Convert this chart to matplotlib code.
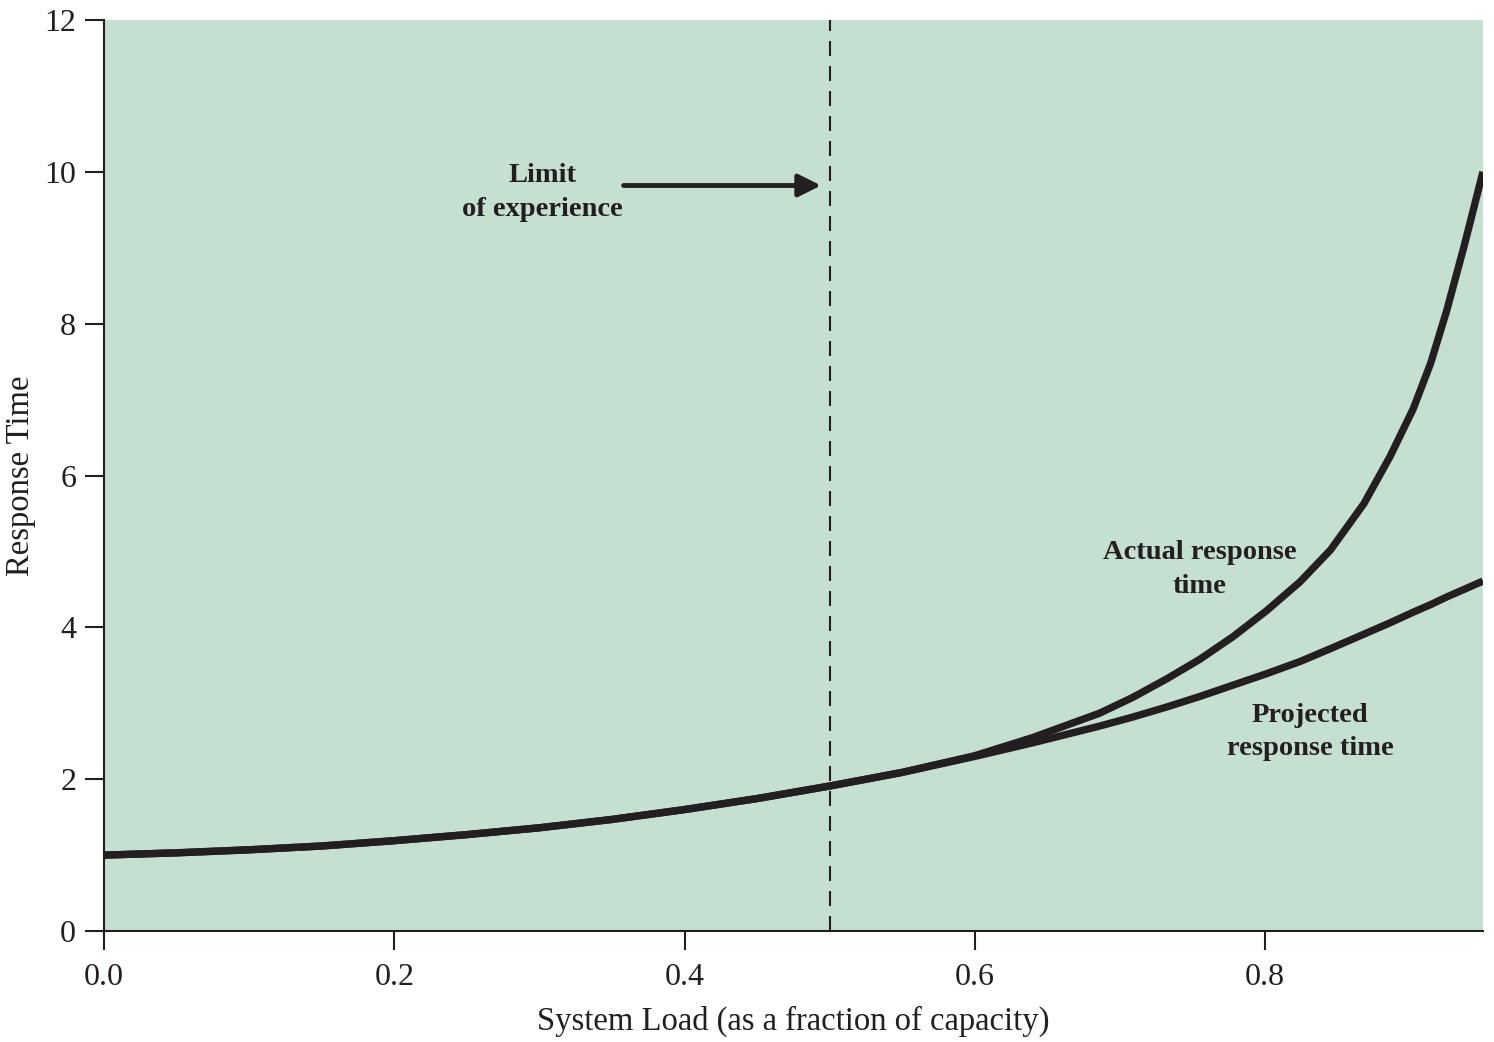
import numpy as np
import matplotlib.pyplot as plt

# values
load = [0.0, 0.05, 0.1, 0.15, 0.2, 0.25, 0.3, 0.35, 0.4, 0.45, 0.5, 0.55, 0.6,
        0.64, 0.686, 0.709, 0.732, 0.755, 0.778, 0.801, 0.824, 0.845, 0.868,
        0.886, 0.902, 0.914, 0.925, 0.937, 0.95]
actual = [1.0, 1.03, 1.07, 1.12, 1.19, 1.27, 1.36, 1.47, 1.60, 1.745, 1.91, 2.09, 2.31,
          2.55, 2.87, 3.08, 3.32, 3.58, 3.88, 4.22, 4.6, 5.02, 5.63,
          6.25, 6.88, 7.48, 8.17, 9.02, 10.0]
projected = [1.0, 1.03, 1.07, 1.12, 1.19, 1.27, 1.36, 1.47, 1.60, 1.745, 1.91, 2.09, 2.30,
             2.48, 2.70, 2.82, 2.95, 3.09, 3.24, 3.39, 3.55, 3.72, 3.91,
             4.06, 4.2, 4.3, 4.4, 4.5, 4.61]

limit_load = 0.5
xticks = [0.0, 0.2, 0.4, 0.6, 0.8]
xticklabels = ["0.0", "0.2", "0.4", "0.6", "0.8"]
yticks = [0, 2, 4, 6, 8, 10, 12]

ink = "#231f20"
bg = "#c5dfd0"

plt.rcParams['font.family'] = ['Liberation Serif', 'DejaVu Serif']

fig = plt.figure(figsize=(14.94, 10.42), dpi=100)
ax = fig.add_axes([0.0696, 0.1065, 0.9230, 0.8743])
ax.set_facecolor(bg)

ax.plot(load, actual, color=ink, lw=5.3, solid_capstyle='butt', solid_joinstyle='round')
ax.plot(load, projected, color=ink, lw=5.3, solid_capstyle='butt', solid_joinstyle='round')
ax.axvline(limit_load, color=ink, lw=1.5, linestyle=(0, (7.2, 4.8)))

# arrow pointing at the limit line
ax.annotate("", xy=(0.494, 9.82), xytext=(0.358, 9.82),
            arrowprops=dict(arrowstyle='-|>', color=ink, lw=3.5,
                            mutation_scale=34, shrinkA=0, shrinkB=0))
ax.text(0.302, 9.73, "Limit\nof experience", ha='center', va='center',
        fontsize=20.5, fontweight='bold', color=ink, linespacing=1.45)
ax.text(0.755, 4.76, "Actual response\ntime", ha='center', va='center',
        fontsize=20.5, fontweight='bold', color=ink, linespacing=1.45)
ax.text(0.831, 2.62, "Projected\nresponse time", ha='center', va='center',
        fontsize=20.5, fontweight='bold', color=ink, linespacing=1.45)

ax.set_xlim(0, 0.95)
ax.set_ylim(0, 12)
ax.set_xticks(xticks)
ax.set_xticklabels(xticklabels)
ax.set_yticks(yticks)
ax.tick_params(axis='both', direction='out', length=14, width=1.5,
               colors=ink, labelsize=23)
ax.tick_params(axis='x', pad=9)
ax.tick_params(axis='y', pad=6)
for side in ['top', 'right']:
    ax.spines[side].set_visible(False)
for side in ['left', 'bottom']:
    ax.spines[side].set_linewidth(1.5)
    ax.spines[side].set_color(ink)

ax.set_xlabel("System Load (as a fraction of capacity)", fontsize=23.5,
              color=ink, labelpad=10)
ax.set_ylabel("Response Time", fontsize=23.5, color=ink, labelpad=6)

fig.savefig("out.png", dpi=100)
